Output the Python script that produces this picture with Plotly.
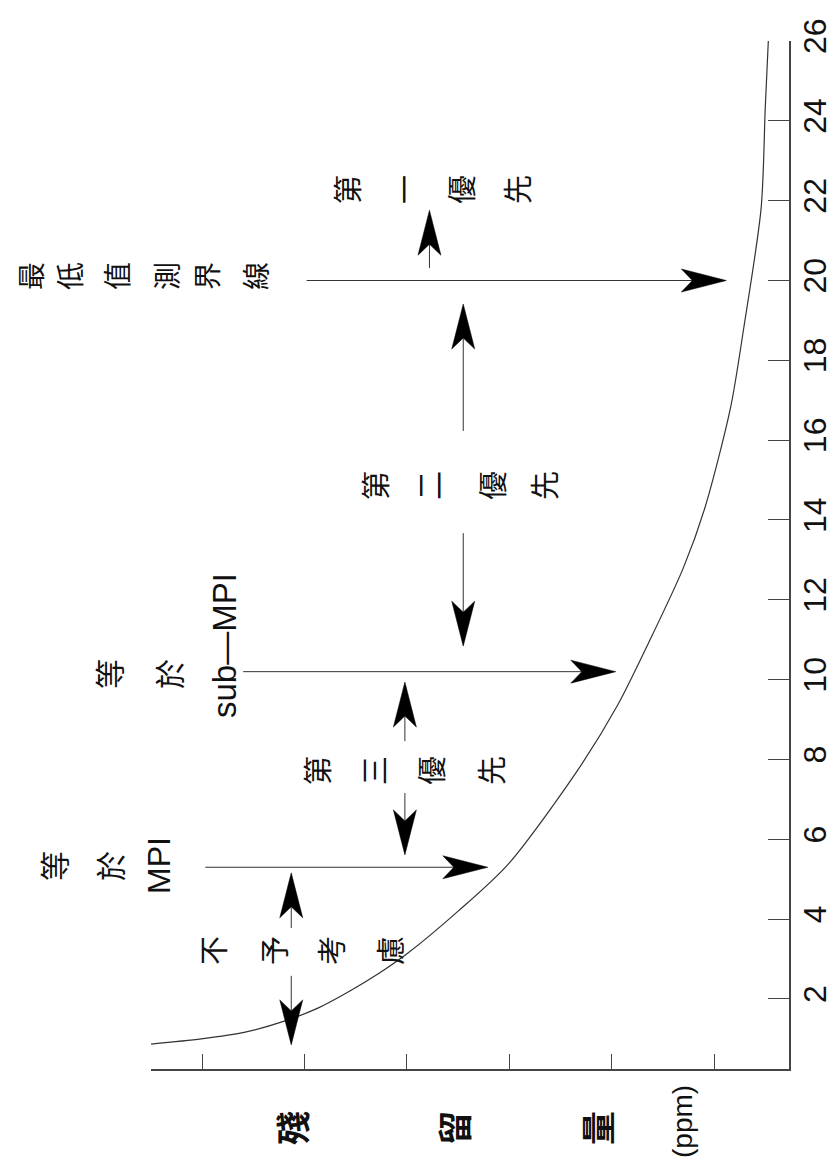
import plotly.graph_objects as go

# ---------------- data ----------------
# residue decay curve: days after application vs residue (ppm, unlabeled scale)
curve_days = [0.87, 1.00, 1.17, 1.45, 1.77, 2.18, 2.63, 3.15, 4.20, 5.38, 7.74,
              9.37, 10.92, 12.80, 14.30, 16.80, 18.81, 21.82, 24.32, 26.0]
curve_residue = [6.50, 6.01, 5.58, 5.19, 4.87, 4.57, 4.28, 3.99, 3.50, 3.01, 2.33,
                 1.94, 1.64, 1.30, 1.09, 0.84, 0.71, 0.54, 0.50, 0.47]

day_ticks = [2, 4, 6, 8, 10, 12, 14, 16, 18, 20, 22, 24, 26]
day_tick_labels = ["2", "4", "6", "8", "10", "12", "14", "16", "18", "20", "22", "24", "26"]
residue_ticks = [1, 2, 3, 4, 5, 6]

# threshold arrows: 等於MPI, 等於sub-MPI, 最低值測界線
threshold_days = [5.3, 10.2, 20.0]
threshold_tail_residue = [5.97, 5.60, 4.98]
threshold_tip_residue = [3.21, 1.96, 0.88]

# priority range arrows: 不予考慮, 第三優先, 第二優先, 第一優先
range_residue = [5.13, 4.02, 3.45, 3.78]
range_upper_from = [3.78, 8.46, 16.23, 20.31]
range_upper_to = [5.16, 9.94, 19.41, 21.76]
range_lower_from = [2.58, 7.16, 13.67, None]
range_lower_to = [0.85, 5.61, 10.84, None]

# ---------------- layout geometry ----------------
W, H = 836, 1164
ML, MR, MT, MB = 143, 55, 33, 103
x_range = [6.5, 0.268]      # residue, reversed (high residue on the left)
y_range = [0.246, 26.0]     # days
PW, PH = W - ML - MR, H - MT - MB
px_per_res = PW / (x_range[0] - x_range[1])
px_per_day = PH / (y_range[1] - y_range[0])

HEAD_LEN, HEAD_HALF, NOTCH = 45.0, 11.5, 11.0  # pixels

def head_right(r, d):
    L = HEAD_LEN / px_per_res; Wd = HEAD_HALF / px_per_day; N = NOTCH / px_per_res
    return [(r, d), (r + L, d + Wd), (r + L - N, d), (r + L, d - Wd), (r, d)]

def head_vert(r, d, up):
    L = HEAD_LEN / px_per_day * (1 if up else -1)
    N = NOTCH / px_per_day * (1 if up else -1)
    Wr = HEAD_HALF / px_per_res
    return [(r, d), (r + Wr, d - L), (r, d - L + N), (r - Wr, d - L), (r, d)]

shaft_x, shaft_y, head_x, head_y = [], [], [], []

def add_poly(pts):
    for p in pts:
        head_x.append(p[0]); head_y.append(p[1])
    head_x.append(None); head_y.append(None)

for d, r0, r1 in zip(threshold_days, threshold_tail_residue, threshold_tip_residue):
    shaft_x.extend([r0, r1 + 0.1, None]); shaft_y.extend([d, d, None])
    add_poly(head_right(r1, d))

for i, r in enumerate(range_residue):
    shaft_x.extend([r, r, None]); shaft_y.extend([range_upper_from[i], range_upper_to[i] - 0.3, None])
    add_poly(head_vert(r, range_upper_to[i], True))
    if range_lower_to[i] is not None:
        shaft_x.extend([r, r, None]); shaft_y.extend([range_lower_from[i], range_lower_to[i] + 0.3, None])
        add_poly(head_vert(r, range_lower_to[i], False))

fig = go.Figure()
fig.add_trace(go.Scatter(x=curve_residue, y=curve_days, mode="lines",
                         line=dict(color="#333333", width=1.2, shape="spline", smoothing=0.8),
                         hoverinfo="skip", showlegend=False))
fig.add_trace(go.Scatter(x=shaft_x, y=shaft_y, mode="lines",
                         line=dict(color="#333333", width=1),
                         hoverinfo="skip", showlegend=False))
fig.add_trace(go.Scatter(x=head_x, y=head_y, mode="lines", fill="toself",
                         fillcolor="#000000", line=dict(color="#000000", width=0.5),
                         hoverinfo="skip", showlegend=False))

# ---------------- rotated text labels ----------------
CJK = "Noto Sans CJK TC, Noto Sans CJK SC, sans-serif"
LAT = "Liberation Sans, Arial, sans-serif"

def px2paper(x, y):
    return (x - ML) / PW, (H - MB - y) / PH

labels = [
    # (text, x_px, y_px, size, family)
    ("最", 22, 268, 28, CJK), ("低", 61, 268, 28, CJK), ("值", 108, 268, 28, CJK),
    ("測", 158, 268, 28, CJK), ("界", 198, 268, 28, CJK), ("線", 247, 268, 28, CJK),
    ("第", 338, 182, 29, CJK), ("一", 395, 182, 29, CJK), ("優", 452, 182, 29, CJK), ("先", 508, 182, 29, CJK),
    ("第", 366, 478, 29, CJK), ("二", 420, 478, 29, CJK), ("優", 483, 478, 29, CJK), ("先", 535, 478, 29, CJK),
    ("第", 308, 763, 29, CJK), ("三", 365, 763, 29, CJK), ("優", 422, 763, 29, CJK), ("先", 482, 763, 29, CJK),
    ("不", 204, 943, 29, CJK), ("予", 265, 943, 29, CJK), ("考", 322, 943, 29, CJK), ("慮", 381, 943, 29, CJK),
    ("等", 45, 858, 30, CJK), ("於", 101, 858, 30, CJK), ("MPI", 151, 858, 32, LAT),
    ("等", 100, 666, 30, CJK), ("於", 160, 666, 30, CJK), ("sub—MPI", 216, 638, 33, LAT),
    ("<b>殘</b>", 283, 1120, 34, CJK), ("<b>留</b>", 445, 1120, 34, CJK),
    ("<b>量</b>", 588, 1120, 34, CJK), ("(ppm)", 674, 1114, 28, LAT),
]
annotations = []
for text, xp, yp, size, fam in labels:
    ax, ay = px2paper(xp, yp)
    annotations.append(dict(text=text, x=ax, y=ay, xref="paper", yref="paper",
                            xanchor="center", yanchor="middle", showarrow=False,
                            textangle=-90, font=dict(family=fam, size=size, color="#111111")))

fig.update_layout(
    width=W, height=H,
    margin=dict(l=ML, r=MR, t=MT, b=MB, pad=0, autoexpand=False),
    paper_bgcolor="#ffffff", plot_bgcolor="#ffffff",
    annotations=annotations,
    xaxis=dict(range=x_range, showgrid=False, zeroline=False, showline=True,
               linecolor="#444444", linewidth=1.5, ticks="inside", ticklen=15,
               tickwidth=1, tickcolor="#444444", tickvals=residue_ticks,
               showticklabels=False, fixedrange=True, automargin=False),
    yaxis=dict(range=y_range, side="right", showgrid=False, zeroline=False,
               showline=True, linecolor="#444444", linewidth=1.5, ticks="inside",
               ticklen=21, tickwidth=1, tickcolor="#444444", tickvals=day_ticks,
               ticktext=day_tick_labels, tickangle=-90, ticklabelstandoff=-3,
               tickfont=dict(family=LAT, size=32, color="#111111"), fixedrange=True,
               automargin=False),
)

fig.write_html("out.html")
